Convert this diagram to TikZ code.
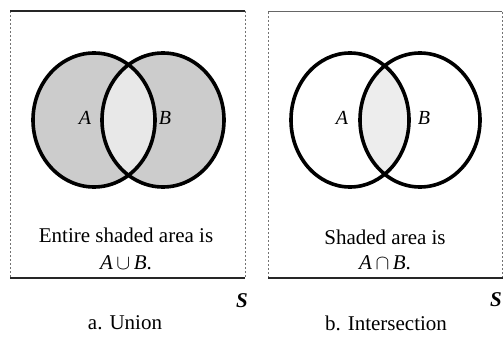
\documentclass[tikz,border=0pt]{standalone}
\usepackage{fontspec}
\setmainfont{Liberation Serif}
\begin{document}
\begin{tikzpicture}[x=1pt,y=-1pt,
  ring/.style={line width=3.6pt,black},
  frametop/.style={line width=1.6pt,black!85},
  frameside/.style={line width=0.6pt,black!55,dash pattern=on 2pt off 2pt},
  txt/.style={font=\fontsize{21}{25}\selectfont,inner sep=0pt},
  lab/.style={font=\fontsize{20}{24}\selectfont\itshape,inner sep=0pt},
  bigS/.style={font=\fontsize{21}{25}\selectfont\bfseries\itshape,inner sep=0pt}]
\useasboundingbox (0,0) rectangle (503,337);
% ---------- left panel: union ----------
\coordinate (la) at (94,120);
\coordinate (lb) at (163,120);
\draw[frameside] (10,11) -- (10,278);
\draw[frameside] (245,11) -- (245,278);
\draw[frametop] (10,11) -- (245,11);
\draw[frametop] (10,278) -- (245,278);
\fill[gray!40] (la) ellipse [x radius=61,y radius=67];
\fill[gray!40] (lb) ellipse [x radius=61,y radius=67];
\begin{scope}
  \clip (la) ellipse [x radius=61,y radius=67];
  \fill[gray!18] (lb) ellipse [x radius=61,y radius=67];
\end{scope}
\draw[ring] (la) ellipse [x radius=61,y radius=67];
\draw[ring] (lb) ellipse [x radius=61,y radius=67];
\node[lab] (lA) at (85,118) {A};
\node[lab] (lB) at (165,118) {B};
\node[txt] (lt1) at (126,235) {Entire shaded area is};
\node[txt] (lt2) at (126,263) {\textit{A}\,$\cup$\,\textit{B}.};
\node[bigS] (lS) at (242,301) {S};
\node[txt] (lcap) at (125,323) {a. Union};
% ---------- right panel: intersection ----------
\coordinate (ra) at (350,120);
\coordinate (rb) at (420,120);
\draw[frameside] (268,12) -- (268,278);
\draw[frameside] (502,12) -- (502,278);
\draw[line width=1pt,black!60] (268,12) -- (502,12);
\draw[frametop] (268,278) -- (503,278);
\begin{scope}
  \clip (ra) ellipse [x radius=59,y radius=67];
  \fill[gray!14] (rb) ellipse [x radius=60,y radius=67];
\end{scope}
\draw[ring] (ra) ellipse [x radius=59,y radius=67];
\draw[ring] (rb) ellipse [x radius=60,y radius=67];
\node[lab] (rA) at (342,118) {A};
\node[lab] (rB) at (424,118) {B};
\node[txt] (rt1) at (385,237) {Shaded area is};
\node[txt] (rt2) at (385,263) {\textit{A}\,$\cap$\,\textit{B}.};
\node[bigS] (rS) at (496,300) {S};
\node[txt] (rcap) at (386,323) {b. Intersection};
\end{tikzpicture}
\end{document}
